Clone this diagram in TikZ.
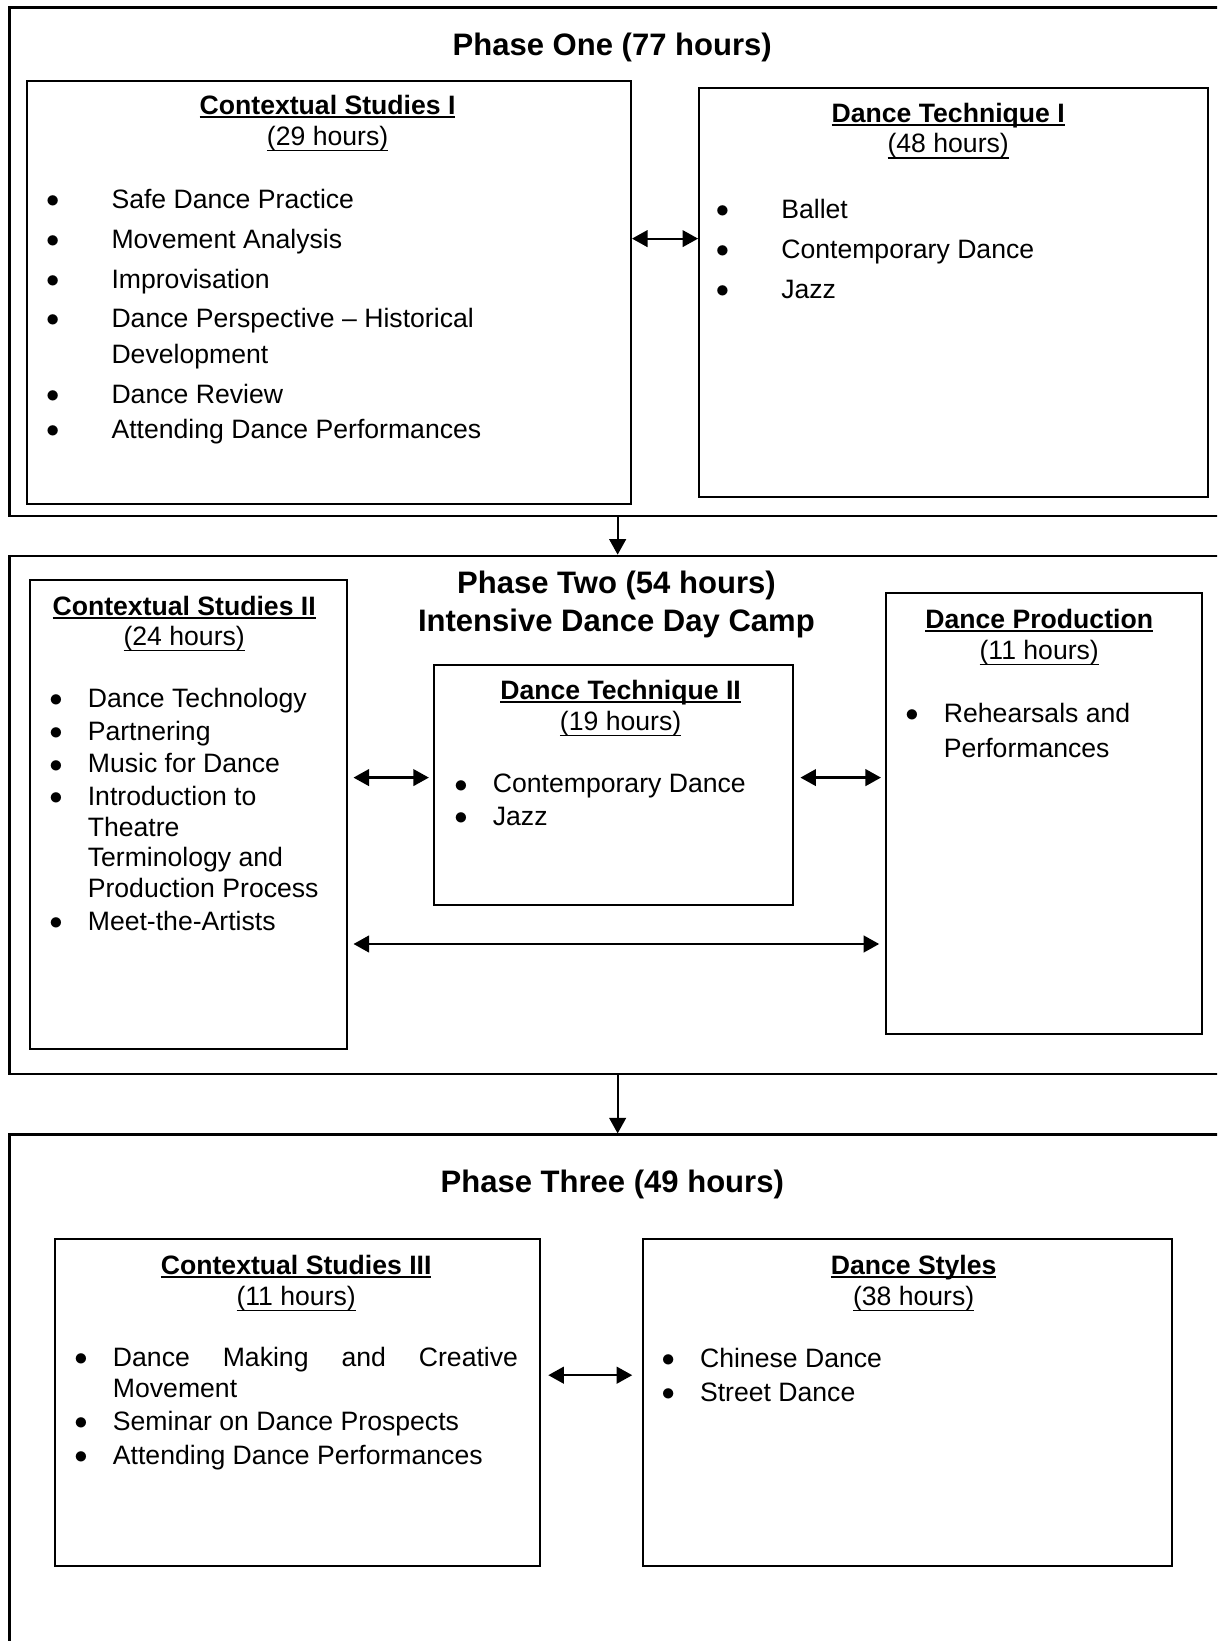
\documentclass[tikz,border=0pt]{standalone}
\usepackage{fontspec}
\setmainfont{Liberation Sans}
\usetikzlibrary{arrows.meta}
% underlines as in the word processor
\newcommand\hdul[1]{\setbox0\hbox{#1}\rlap{\rule[-1.6pt]{\wd0}{0.9pt}}\box0}
\newcommand\hrul[1]{\setbox0\hbox{#1}\rlap{\rule[-2.6pt]{\wd0}{0.6pt}}\box0}
\newcommand\course[2]{\hdul{\bfseries #1}\\\hrul{(#2 hours)}}
% bullet items
\newlength\bgap \setlength\bgap{14.4pt}
\newcommand\li[1]{\makebox[0pt]{\raisebox{0.4pt}{$\bullet$}}\hspace*{\bgap}#1}
\newcommand\lc[1]{\hspace*{\bgap}#1}
\begin{document}
\begin{tikzpicture}[x=0.472pt,y=-0.472pt,
    cbox/.style 2 args={draw,line width=0.9pt,anchor=north west,inner sep=0pt,
      minimum width=#1*0.472pt,minimum height=#2*0.472pt},
    pbox/.style 2 args={cbox={#1}{#2},line width=1.1pt},
    ptitle/.style={anchor=base,align=center,inner sep=0pt,
      font=\fontsize{14}{17}\selectfont\bfseries},
    chead/.style={anchor=base,align=center,inner sep=0pt,
      font=\fontsize{12}{13.8}\selectfont},
    clist/.style={anchor=base west,align=left,inner sep=0pt,
      font=\fontsize{12}{#1}\selectfont},
    wide/.style={execute at begin node=\setlength\bgap{26.5pt}},
    arr/.style={-{Triangle[length=7pt,width=7.5pt]},line width=1pt},
    dbl/.style={{Triangle[length=7pt,width=7.5pt]}-{Triangle[length=7pt,width=7.5pt]},line width=1pt}]
  \useasboundingbox (0,0) rectangle (1163,1568);
  \clip (0,0) rectangle (1163,1568);
  % text nodes sit on the baseline of their last line

  % Phase one
  \node[pbox={1162}{486}] (p1) at (8,6) {};
  \node[ptitle] (t1) at (585,53) {Phase One (77 hours)};
  \node[cbox={577}{405}] (cs1) at (25,76) {};
  \node[chead] (h1) at (313,139) {\course{Contextual Studies I}{29}};
  \node[clist=16,wide] (l1) at (50,419) {\li{Safe Dance Practice}\\[1.9pt]
    \li{Movement Analysis}\\[1.9pt]
    \li{Improvisation}\\[1.9pt]
    \li{Dance Perspective – Historical}\\
    \lc{Development}\\[1.9pt]
    \li{Dance Review}\\
    \li{Attending Dance Performances}};
  \node[cbox={486}{391}] (dt1) at (667,83) {};
  \node[chead] (h2) at (906,146) {\course{Dance Technique I}{48}};
  \node[clist=16,wide] (l2) at (690,285) {\li{Ballet}\\[2pt]
    \li{Contemporary Dance}\\[2pt]
    \li{Jazz}};

  % Phase two
  \node[pbox={1162}{495}] (p2) at (8,530) {};
  \node[ptitle] (t2) at (589,603) {Phase Two (54 hours)\\Intensive Dance Day Camp};
  \node[cbox={303}{448}] (cs2) at (28,553) {};
  \node[chead] (h3) at (176,617) {\course{Contextual Studies II}{24}};
  \node[clist=13.8] (l3) at (53,889) {\li{Dance Technology}\\[1pt]
    \li{Partnering}\\[1pt]
    \li{Music for Dance}\\[1pt]
    \li{Introduction to}\\
    \lc{Theatre}\\
    \lc{Terminology and}\\
    \lc{Production Process}\\[1pt]
    \li{Meet-the-Artists}};
  \node[cbox={343}{230}] (dt2) at (414,634) {};
  \node[chead] (h4) at (593,698) {\course{Dance Technique II}{19}};
  \node[clist=13.8] (l4) at (440,789) {\li{Contemporary Dance}\\[1pt]
    \li{Jazz}};
  \node[cbox={302}{421}] (dp) at (846,566) {};
  \node[chead] (h5) at (993,630) {\course{Dance Production}{11}};
  \node[clist=16] (l5) at (871,724) {\li{Rehearsals and}\\
    \lc{Performances}};

  % Phase three
  \node[pbox={1162}{560}] (p3) at (8,1083) {};
  \node[ptitle] (t3) at (585,1139) {Phase Three (49 hours)};
  \node[cbox={463}{312}] (cs3) at (52,1183) {};
  \node[chead] (h6) at (283,1247) {\course{Contextual Studies III}{11}};
  \node[clist=14.2] (l6) at (77,1399) {\li{\makebox[182.7pt][s]{Dance Making and Creative}}\\
    \lc{Movement}\\[0.5pt]
    \li{Seminar on Dance Prospects}\\[1pt]
    \li{Attending Dance Performances}};
  \node[cbox={506}{312}] (ds) at (613,1183) {};
  \node[chead] (h7) at (873,1247) {\course{Dance Styles}{38}};
  \node[clist=14.2] (l7) at (638,1339) {\li{Chinese Dance}\\[1pt]
    \li{Street Dance}};

  % connectors
  \coordinate (y1) at (0,228);
  \coordinate (y2) at (0,743);
  \coordinate (y3) at (0,902);
  \coordinate (y4) at (0,1314);
  \draw[dbl] (cs1.east |- y1) -- (dt1.west |- y1);
  \draw[arr] (p1.south) -- (p2.north);
  \draw[dbl,shorten <=2.3pt,shorten >=2pt] (cs2.east |- y2) -- (dt2.west |- y2);
  \draw[dbl,shorten <=2.8pt,shorten >=2pt] (dt2.east |- y2) -- (dp.west |- y2);
  \draw[dbl,shorten <=2.3pt,shorten >=2.8pt] (cs2.east |- y3) -- (dp.west |- y3);
  \draw[arr] (p2.south) -- (p3.north);
  \draw[dbl,shorten <=3.3pt,shorten >=4.2pt] (cs3.east |- y4) -- (ds.west |- y4);
\end{tikzpicture}
\end{document}
